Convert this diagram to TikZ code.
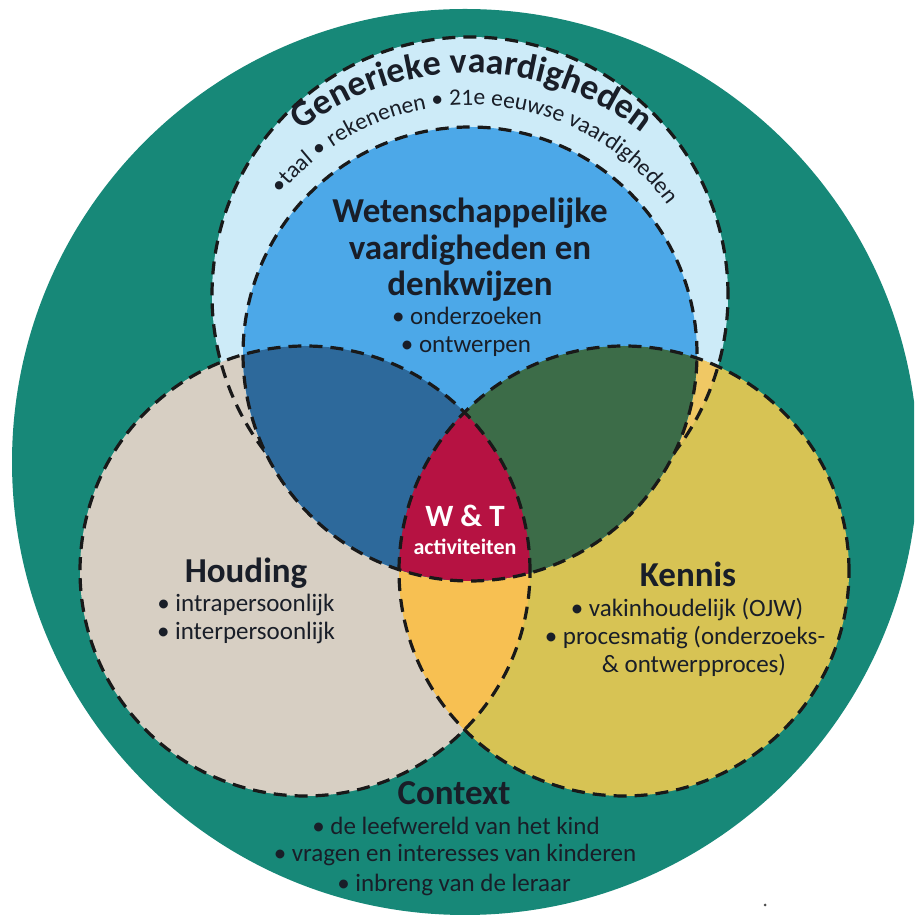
\documentclass[tikz,border=0pt]{standalone}
\usepackage{fontspec}
\setmainfont{Carlito}
\definecolor{tealbg}{RGB}{23,136,120}
\definecolor{genblue}{RGB}{205,235,248}
\definecolor{wetblue}{RGB}{76,168,232}
\definecolor{darkblue}{RGB}{45,105,155}
\definecolor{darkgreen}{RGB}{60,108,72}
\definecolor{crimson}{RGB}{182,18,66}
\definecolor{beige}{RGB}{215,207,195}
\definecolor{kenyellow}{RGB}{215,195,84}
\definecolor{lensorange}{RGB}{247,192,82}
\definecolor{sliver}{RGB}{240,200,100}
\definecolor{ink}{RGB}{25,30,40}
\newlength\ctW
\newlength\ctC
\newcommand\ctsp{\kern0.24em}
\newcommand\genfont{\bfseries\fontsize{36}{36}\selectfont}
\newcommand\subfont{\fontsize{23.5}{23.5}\selectfont}
\newcommand\genlist{G,e,n,e,r,i,e,k,e,\ctsp,v,a,a,r,d,i,g,h,e,d,e,n}
\newcommand\sublist{•,t,a,a,l,\ctsp,•,\ctsp,r,e,k,e,n,e,n,e,n,\ctsp,•,\ctsp,2,1,e,\ctsp,e,e,u,w,s,e,\ctsp,v,a,a,r,d,i,g,h,e,d,e,n}
% measure outside the picture: #1 name, #2 radius, #3 middle angle, #4 font, #5 list
\newcommand\curveprep[5]{%
  \global\ctW=0pt
  \foreach \ch in #5{\settowidth\ctC{#4\ch}\global\advance\ctW by \ctC}%
  \xdef\ctpos{0}%
  \foreach \ch [count=\i] in #5{%
    \settowidth\ctC{#4\ch}%
    \pgfmathsetmacro\ctang{#3 + (\the\ctW/2 - \ctpos - \the\ctC/2)/#2*57.29578}%
    \expandafter\xdef\csname ctA#1\i\endcsname{\ctang}%
    \pgfmathsetmacro\ctnew{\ctpos+\the\ctC}%
    \xdef\ctpos{\ctnew}%
  }%
}
% draw inside the picture: #1 name, #2 cx, #3 cy, #4 radius, #5 font, #6 list
\newcommand\curvedraw[6]{%
  \foreach \ch [count=\i] in #6{%
    \pgfmathsetmacro\ctang{\csname ctA#1\i\endcsname}%
    \pgfmathsetmacro\ctrot{\ctang-90}%
    \node[anchor=base, inner sep=0pt, font={#5}, text=ink, rotate=\ctrot] (#1\i)
      at ({#2+#4*cos(\ctang)},{#3+#4*sin(\ctang)}) {\ch};
  }%
}
\begin{document}
\curveprep{gen}{277}{89.6}{\genfont}{\genlist}%
\curveprep{sub}{245}{88.4}{\subfont}{\sublist}%
\begin{tikzpicture}[x=1pt,y=1pt,
  dline/.style={draw=black!90, line width=3.2pt, dash pattern=on 13pt off 8pt},
  lbl/.style={anchor=base, text=ink, inner sep=0pt, align=center},
  ttl/.style={lbl, font=\bfseries\fontsize{35}{38}\selectfont},
  itm/.style={lbl, font=\fontsize{25}{28}\selectfont},
  wtl/.style={lbl, text=white, font=\bfseries\fontsize{31}{34}\selectfont},
  wts/.style={lbl, text=white, font=\bfseries\fontsize{22}{25}\selectfont}]
\useasboundingbox (0,0) rectangle (914,920);
\clip (0,0) rectangle (914,920);
\coordinate (cT) at (465,458);
\coordinate (cG) at (470,625);
\coordinate (cW) at (470,566);
\coordinate (cH) at (305,349);
\coordinate (cK) at (624,349);
% background
\fill[tealbg] (cT) circle[radius=453];
\fill[genblue] (cG) circle[radius=258];
\fill[beige] (cH) circle[radius=225];
\fill[kenyellow] (cK) circle[radius=225];
\begin{scope}
  \clip (cH) circle[radius=225];
  \fill[lensorange] (cK) circle[radius=225];
\end{scope}
\begin{scope}
  \clip (cG) circle[radius=258];
  \fill[sliver] (cK) circle[radius=225];
\end{scope}
\path[dline] (cG) circle[radius=258];
% science circle
\fill[wetblue] (cW) circle[radius=227];
\begin{scope}
  \clip (cW) circle[radius=227];
  \fill[darkblue] (cH) circle[radius=225];
  \fill[darkgreen] (cK) circle[radius=225];
  \clip (cH) circle[radius=225];
  \fill[crimson] (cK) circle[radius=225];
\end{scope}
\path[dline] (cW) circle[radius=227];
\path[dline] (cH) circle[radius=225];
\path[dline] (cK) circle[radius=225];
% curved texts round (470,570)
\curvedraw{gen}{470}{570}{277}{\genfont}{\genlist}
\curvedraw{sub}{470}{570}{245}{\subfont}{\sublist}
% texts
\node[ttl] (wet1) at (470,697) {Wetenschappelijke};
\node[ttl] (wet2) at (470,660) {vaardigheden en};
\node[ttl] (wet3) at (470,624) {denkwijzen};
\node[itm] (onder) at (467,595) {• onderzoeken};
\node[itm] (ontw) at (466,567) {• ontwerpen};
\node[wtl] (wt) at (465,393) {W \& T};
\node[wts] (act) at (465,365) {activiteiten};
\node[ttl] (houd) at (246,337) {Houding};
\node[itm] (intra) at (246,308) {• intrapersoonlijk};
\node[itm] (inter) at (246,280) {• interpersoonlijk};
\node[ttl] (kenn) at (688,333) {Kennis};
\node[itm] (vak) at (687,303) {• vakinhoudelijk (OJW)};
\node[itm] (proc) at (685,275) {• procesmatig (onderzoeks-};
\node[itm] (ontwp) at (694,247) {\& ontwerpproces)};
\node[ttl] (cont) at (454,115) {Context};
\node[itm] (c1) at (456,85) {• de leefwereld van het kind};
\node[itm] (c2) at (455,58) {• vragen en interesses van kinderen};
\node[itm] (c3) at (454,28) {• inbreng van de leraar};
\fill[black!70] (765,15) circle[radius=1.5];
\end{tikzpicture}
\end{document}
